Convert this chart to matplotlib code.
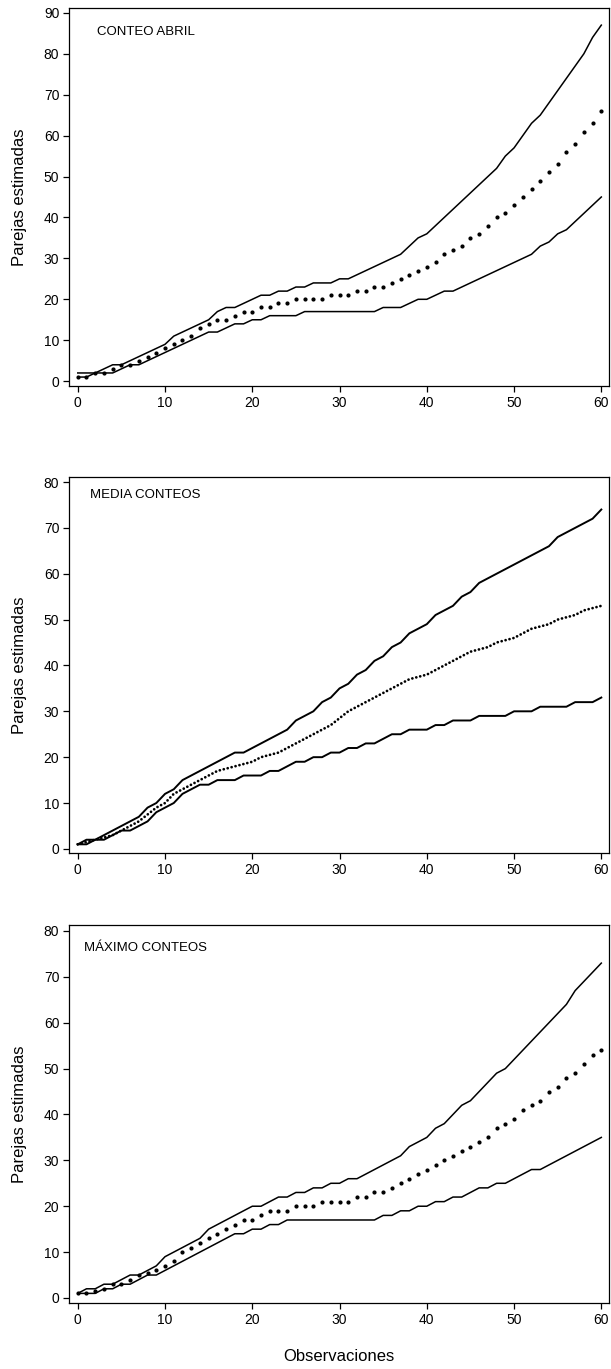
import numpy as np
import matplotlib.pyplot as plt

plt.rcParams['font.family'] = ['Liberation Sans', 'DejaVu Sans']

obs = list(range(61))

# CONTEO ABRIL
abril_sup = [2, 2, 2, 3, 4, 4, 5, 6, 7, 8, 9, 11, 12, 13, 14, 15, 17, 18, 18, 19,
             20, 21, 21, 22, 22, 23, 23, 24, 24, 24, 25, 25, 26, 27, 28, 29, 30, 31, 33, 35,
             36, 38, 40, 42, 44, 46, 48, 50, 52, 55, 57, 60, 63, 65, 68, 71, 74, 77, 80, 84, 87]
abril_med = [1, 1, 2, 2, 3, 4, 4, 5, 6, 7, 8, 9, 10, 11, 13, 14, 15, 15, 16, 17,
             17, 18, 18, 19, 19, 20, 20, 20, 20, 21, 21, 21, 22, 22, 23, 23, 24, 25, 26, 27,
             28, 29, 31, 32, 33, 35, 36, 38, 40, 41, 43, 45, 47, 49, 51, 53, 56, 58, 61, 63, 66]
abril_inf = [1, 1, 2, 2, 2, 3, 4, 4, 5, 6, 7, 8, 9, 10, 11, 12, 12, 13, 14, 14,
             15, 15, 16, 16, 16, 16, 17, 17, 17, 17, 17, 17, 17, 17, 17, 18, 18, 18, 19, 20,
             20, 21, 22, 22, 23, 24, 25, 26, 27, 28, 29, 30, 31, 33, 34, 36, 37, 39, 41, 43, 45]

# MEDIA CONTEOS
media_sup = [1, 2, 2, 3, 4, 5, 6, 7, 9, 10, 12, 13, 15, 16, 17, 18, 19, 20, 21, 21,
             22, 23, 24, 25, 26, 28, 29, 30, 32, 33, 35, 36, 38, 39, 41, 42, 44, 45, 47, 48,
             49, 51, 52, 53, 55, 56, 58, 59, 60, 61, 62, 63, 64, 65, 66, 68, 69, 70, 71, 72, 74]
media_med = [1, 1.5, 2, 2.5, 3, 4, 5, 6, 7.5, 9, 10, 12, 13, 14, 15, 16, 17, 17.5, 18, 18.5,
             19, 20, 20.5, 21, 22, 23, 24, 25, 26, 27, 28.5, 30, 31, 32, 33, 34, 35, 36, 37, 37.5,
             38, 39, 40, 41, 42, 43, 43.5, 44, 45, 45.5, 46, 47, 48, 48.5, 49, 50, 50.5, 51, 52, 52.5, 53]
media_inf = [1, 1, 2, 2, 3, 4, 4, 5, 6, 8, 9, 10, 12, 13, 14, 14, 15, 15, 15, 16,
             16, 16, 17, 17, 18, 19, 19, 20, 20, 21, 21, 22, 22, 23, 23, 24, 25, 25, 26, 26,
             26, 27, 27, 28, 28, 28, 29, 29, 29, 29, 30, 30, 30, 31, 31, 31, 31, 32, 32, 32, 33]

# MAXIMO CONTEOS
max_sup = [1, 2, 2, 3, 3, 4, 5, 5, 6, 7, 9, 10, 11, 12, 13, 15, 16, 17, 18, 19,
           20, 20, 21, 22, 22, 23, 23, 24, 24, 25, 25, 26, 26, 27, 28, 29, 30, 31, 33, 34,
           35, 37, 38, 40, 42, 43, 45, 47, 49, 50, 52, 54, 56, 58, 60, 62, 64, 67, 69, 71, 73]
max_med = [1, 1, 1.5, 2, 3, 3, 4, 5, 5.5, 6, 7, 8, 10, 11, 12, 13, 14, 15, 16, 17,
           17, 18, 19, 19, 19, 20, 20, 20, 21, 21, 21, 21, 22, 22, 23, 23, 24, 25, 26, 27,
           28, 29, 30, 31, 32, 33, 34, 35, 37, 38, 39, 41, 42, 43, 45, 46, 48, 49, 51, 53, 54]
max_inf = [1, 1, 1, 2, 2, 3, 3, 4, 5, 5, 6, 7, 8, 9, 10, 11, 12, 13, 14, 14,
           15, 15, 16, 16, 17, 17, 17, 17, 17, 17, 17, 17, 17, 17, 17, 18, 18, 19, 19, 20,
           20, 21, 21, 22, 22, 23, 24, 24, 25, 25, 26, 27, 28, 28, 29, 30, 31, 32, 33, 34, 35]

titulos = ["CONTEO ABRIL", "MEDIA CONTEOS", "MÁXIMO CONTEOS"]
series = [(abril_sup, abril_med, abril_inf),
          (media_sup, media_med, media_inf),
          (max_sup, max_med, max_inf)]

fig = plt.figure(figsize=(6.11, 13.69), dpi=100)
posiciones = [[0.113, 0.718, 0.884, 0.2762],
              [0.113, 0.3769, 0.884, 0.2747],
              [0.113, 0.0482, 0.884, 0.2761]]
ylims = [(-1.2, 91.2), (-0.9, 81.1), (-1.1, 81.3)]
ymax_tick = [90, 80, 80]
textpos = [(2.2, 85.4), (1.4, 77.2), (0.7, 76.3)]

for i in range(3):
    ax = fig.add_axes(posiciones[i])
    sup, med, inf = series[i]
    if i == 1:
        ax.plot(obs, sup, color='black', lw=1.4)
        ax.plot(obs, inf, color='black', lw=1.4)
        ax.plot(obs, med, color='black', lw=2.0, linestyle=(0, (0.01, 1.45)),
                dash_capstyle='round')
    else:
        ax.plot(obs, sup, color='black', lw=1.1)
        ax.plot(obs, inf, color='black', lw=1.1)
        ax.plot(obs, med, linestyle='none', marker='o', ms=2.0, color='black')
    ax.set_xlim(-1.0, 60.9)
    ax.set_ylim(*ylims[i])
    ax.set_xticks(range(0, 61, 10))
    ax.set_yticks(range(0, ymax_tick[i] + 1, 10))
    ax.tick_params(direction='out', length=4, width=0.9, labelsize=10, pad=3)
    for s in ax.spines.values():
        s.set_linewidth(0.9)
    ax.set_ylabel("Parejas estimadas", fontsize=12, labelpad=12)
    ax.text(textpos[i][0], textpos[i][1], titulos[i], fontsize=9.5, va='center', ha='left')
    if i == 2:
        ax.set_xlabel("Observaciones", fontsize=12, labelpad=16)

fig.savefig("out.png", dpi=100)
